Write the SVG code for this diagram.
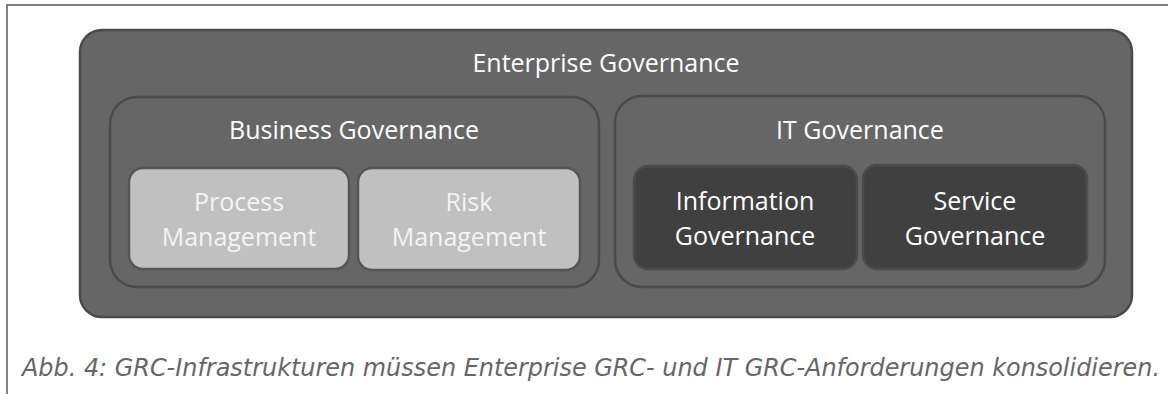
<svg xmlns="http://www.w3.org/2000/svg" width="1168" height="394" viewBox="0 0 1168 394">
<style>
.frame{stroke:#808080;stroke-width:2;fill:none}
.box{fill:#666666;stroke:#4a4a4a;stroke-width:2.5}
.light{fill:#c0c0c0;stroke:#555555;stroke-width:2.5}
.dark{fill:#404040;stroke:#4c4c4c;stroke-width:2.5}
.t{font-family:"Open Sans","Noto Sans",sans-serif;font-size:25px;fill:#ffffff;text-anchor:middle}
.lt{fill:#f4f4f4}
.cap{font-family:"DejaVu Sans Condensed","DejaVu Sans",sans-serif;font-style:italic;font-size:25px;fill:#666666}
</style>
<rect width="1168" height="394" fill="#ffffff"/>
<path class="frame" d="M7,394 V5 H1168"/>
<g id="enterprise">
<rect class="box" x="80" y="30" width="1052" height="287" rx="22"/>
<text class="t" x="606" y="72">Enterprise Governance</text>
</g>
<g id="business">
<rect class="box" x="110" y="97" width="489" height="190" rx="27"/>
<text class="t" x="354" y="139">Business Governance</text>
</g>
<g id="it">
<rect class="box" x="615" y="96" width="490" height="191" rx="27"/>
<text class="t" x="860" y="139">IT Governance</text>
</g>
<g id="process">
<rect class="light" x="129" y="168" width="220" height="101" rx="14"/>
<text class="t lt" x="239" y="211">Process</text>
<text class="t lt" x="239" y="246">Management</text>
</g>
<g id="risk">
<rect class="light" x="358" y="168" width="222" height="102" rx="14"/>
<text class="t lt" x="469" y="211">Risk</text>
<text class="t lt" x="469" y="246">Management</text>
</g>
<g id="information">
<rect class="dark" x="634" y="166" width="223" height="103" rx="14"/>
<text class="t" x="745" y="210">Information</text>
<text class="t" x="745" y="245">Governance</text>
</g>
<g id="service">
<rect class="dark" x="863" y="165" width="224" height="104" rx="14"/>
<text class="t" x="975" y="210">Service</text>
<text class="t" x="975" y="245">Governance</text>
</g>
<g id="connectors"></g>
<text class="cap" x="22" y="376" textLength="1138" lengthAdjust="spacingAndGlyphs">Abb. 4: GRC-Infrastrukturen müssen Enterprise GRC- und IT GRC-Anforderungen konsolidieren.</text>
</svg>
